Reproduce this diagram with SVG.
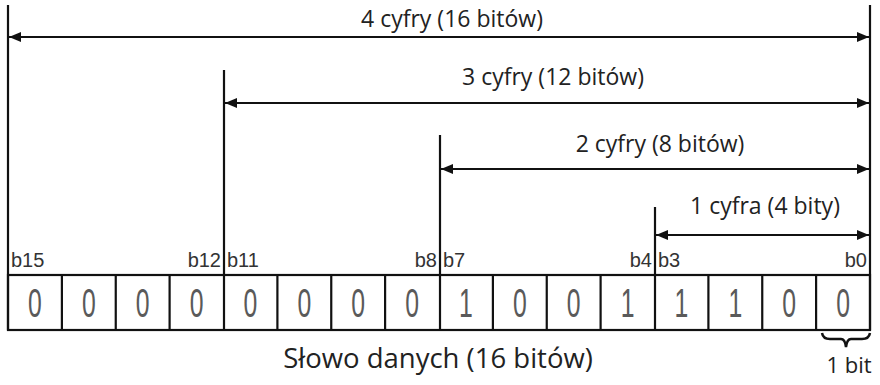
<svg xmlns="http://www.w3.org/2000/svg" width="880" height="385" viewBox="0 0 880 385">
<style>
.ln{stroke:#111;stroke-width:2.2;fill:none}
.ar{stroke:#111;stroke-width:2.2;fill:none;marker-start:url(#ah);marker-end:url(#ah)}
.lab{font-family:"Open Sans","Noto Sans",sans-serif;font-size:23px;fill:#222;text-anchor:middle}
.bit{font-family:"Liberation Sans",Arial,sans-serif;font-size:20px;fill:#333}
.dg{font-family:"Liberation Sans",Arial,sans-serif;font-size:40px;fill:#5a5a5a;text-anchor:middle}
</style>
<defs>
<marker id="ah" viewBox="0 0 12 10" refX="12" refY="5" markerWidth="12" markerHeight="10" markerUnits="userSpaceOnUse" orient="auto-start-reverse">
<path d="M0,0 L12,5 L0,10 Z" fill="#111"/>
</marker>
</defs>
<rect width="880" height="385" fill="#fff"/>
<g id="connectors">
<line class="ln" x1="8" y1="5" x2="8" y2="330"/>
<line class="ln" x1="870" y1="5" x2="870" y2="330"/>
<line class="ln" x1="224" y1="70" x2="224" y2="330"/>
<line class="ln" x1="440" y1="135" x2="440" y2="330"/>
<line class="ln" x1="655" y1="207" x2="655" y2="330"/>
<line class="ar" x1="9" y1="37" x2="869" y2="37"/>
<line class="ar" x1="225" y1="103" x2="869" y2="103"/>
<line class="ar" x1="441" y1="169" x2="869" y2="169"/>
<line class="ar" x1="656" y1="235" x2="869" y2="235"/>
</g>
<g id="span-labels">
<text class="lab" x="452" y="27">4 cyfry (16 bitów)</text>
<text class="lab" x="553" y="85">3 cyfry (12 bitów)</text>
<text class="lab" x="660" y="152">2 cyfry (8 bitów)</text>
<text class="lab" x="765" y="214">1 cyfra (4 bity)</text>
</g>
<g id="bit-labels">
<text class="bit" x="11" y="267">b15</text>
<text class="bit" x="221" y="267" text-anchor="end">b12</text>
<text class="bit" x="227" y="267">b11</text>
<text class="bit" x="437" y="267" text-anchor="end">b8</text>
<text class="bit" x="443" y="267">b7</text>
<text class="bit" x="652" y="267" text-anchor="end">b4</text>
<text class="bit" x="658" y="267">b3</text>
<text class="bit" x="867" y="267" text-anchor="end">b0</text>
</g>
<g id="register">
<rect class="ln" x="8" y="275" width="862" height="55"/>
<path class="ln" d="M61.9,275V330M115.75,275V330M169.6,275V330M277.4,275V330M331.25,275V330M385.1,275V330M492.9,275V330M546.75,275V330M600.6,275V330M708.4,275V330M762.25,275V330M816.1,275V330"/>
<g transform="scale(0.62 1)">
<text class="dg" x="56.4" y="317">0</text>
<text class="dg" x="143.3" y="317">0</text>
<text class="dg" x="230.2" y="317">0</text>
<text class="dg" x="317.1" y="317">0</text>
<text class="dg" x="404.0" y="317">0</text>
<text class="dg" x="490.9" y="317">0</text>
<text class="dg" x="577.8" y="317">0</text>
<text class="dg" x="664.7" y="317">0</text>
<text class="dg" x="751.6" y="317">1</text>
<text class="dg" x="838.5" y="317">0</text>
<text class="dg" x="925.4" y="317">0</text>
<text class="dg" x="1012.3" y="317">1</text>
<text class="dg" x="1099.2" y="317">1</text>
<text class="dg" x="1186.1" y="317">1</text>
<text class="dg" x="1273.0" y="317">0</text>
<text class="dg" x="1359.9" y="317">0</text>
</g>
</g>
<g id="word-label">
<text class="lab" x="438" y="368" style="font-size:27.5px">Słowo danych (16 bitów)</text>
</g>
<g id="bit-brace">
<path d="M822,333 Q823,339 830,339 L841,339 Q845,339 846,347 Q847,339 851,339 L862,339 Q869,339 870,333" stroke="#111" stroke-width="2.5" fill="none"/>
<text class="lab" x="849" y="373" style="font-size:22px">1 bit</text>
</g>
</svg>
